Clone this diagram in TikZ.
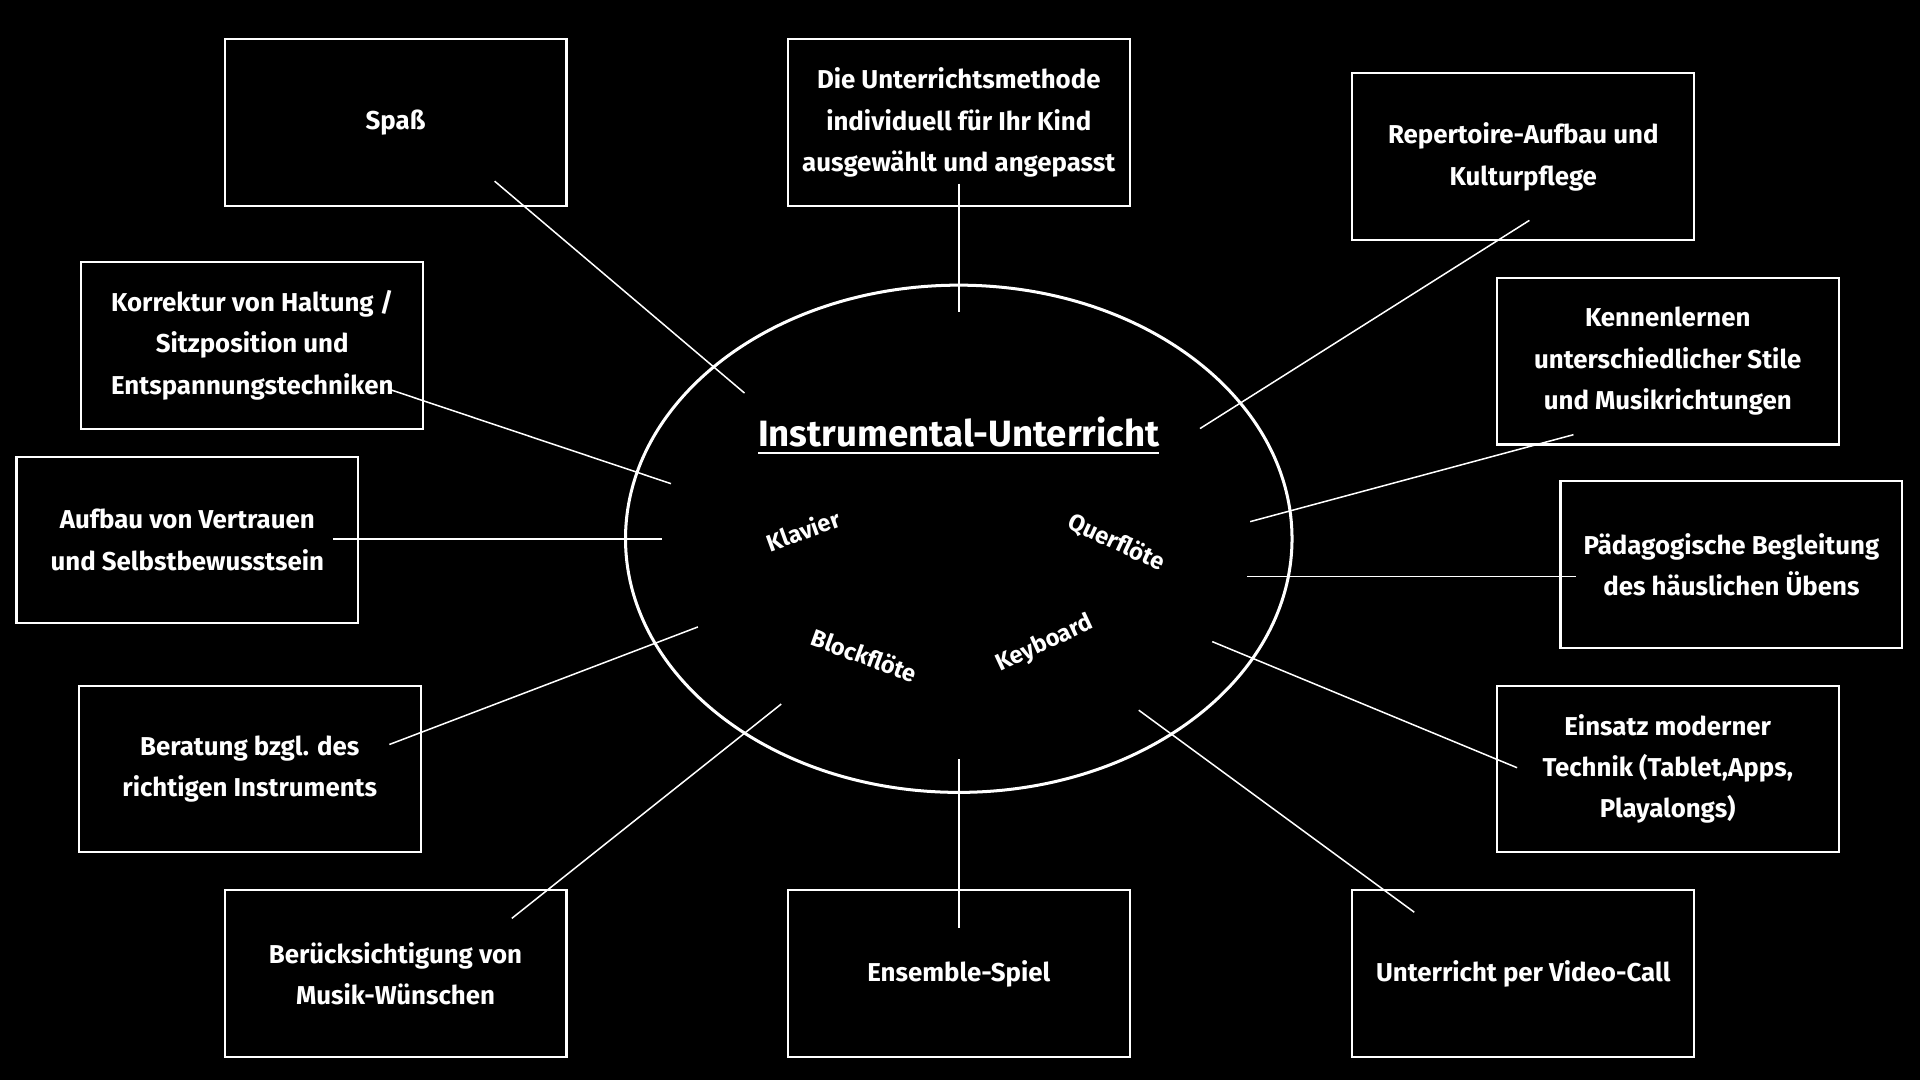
\documentclass[tikz,border=0pt]{standalone}
\usepackage{fontspec}
\setmainfont{Fira Sans}
\usetikzlibrary{shapes.geometric}
\begin{document}
\begin{tikzpicture}[x=0.01cm,y=-0.01cm,
 box/.style={draw=white,line width=0.5pt,minimum width=2.79cm,minimum height=1.36cm,align=center,text=white,font=\bfseries\fontsize{6}{9.6}\selectfont,inner sep=1pt},
 con/.style={draw=white,line width=0.35pt},
 inst/.style={text=white,font=\bfseries\fontsize{5.5}{7}\selectfont}]
\fill[black] (0,0) rectangle (1568,882);
\useasboundingbox (0,0) rectangle (1568,882);
\node[draw=white,line width=0.7pt,ellipse,minimum width=5.44cm,minimum height=4.14cm] (e) at (783,440) {};
\node[text=white,font=\bfseries\fontsize{8.5}{10}\selectfont] (t) at (783,356) {\underline{Instrumental-Unterricht}};
\node[inst,rotate=20] (k) at (656,433) {Klavier};
\node[inst,rotate=-25] (q) at (912,443) {Querflöte};
\node[inst,rotate=-20] (b) at (706,535) {Blockflöte};
\node[inst,rotate=25] (kb) at (853,526) {Keyboard};
\node[box] (n1) at (323,100) {Spaß};
\node[box] (n2) at (783,100) {Die Unterrichtsmethode\\individuell für Ihr Kind\\ausgewählt und angepasst};
\node[box] (n3) at (1244,128) {Repertoire-Aufbau und\\Kulturpflege};
\node[box] (n4) at (1362,295) {Kennenlernen\\unterschiedlicher Stile\\und Musikrichtungen};
\node[box] (n5) at (1414,461) {Pädagogische Begleitung\\des häuslichen Übens};
\node[box] (n6) at (1362,628) {Einsatz moderner\\Technik (Tablet,Apps,\\Playalongs)};
\node[box] (n7) at (1244,795) {Unterricht per Video-Call};
\node[box] (n8) at (783,795) {Ensemble-Spiel};
\node[box] (n9) at (323,795) {Berücksichtigung von\\Musik-Wünschen};
\node[box] (n10) at (204,628) {Beratung bzgl. des\\richtigen Instruments};
\node[box] (n11) at (153,441) {Aufbau von Vertrauen\\und Selbstbewusstsein};
\node[box] (n12) at (206,282) {Korrektur von Haltung /\\Sitzposition und\\Entspannungstechniken};
\foreach \i/\ax/\ay/\bx/\by in {1/404/148/608/321, 2/783/150/783/255, 3/1249/180/980/350, 4/1285/355/1021/426, 5/1287/471/1018/471, 6/1239/627/990/524, 7/1155/745/930/580, 8/783/758/783/620, 9/418/750/638/575, 10/318/608/570/512, 11/272/440/541/440, 12/318/318/548/395}{
 \coordinate (a\i) at (\ax,\ay);
 \coordinate (c\i) at (\bx,\by);
 \draw[con] (a\i) -- (c\i);
}
\end{tikzpicture}
\end{document}
